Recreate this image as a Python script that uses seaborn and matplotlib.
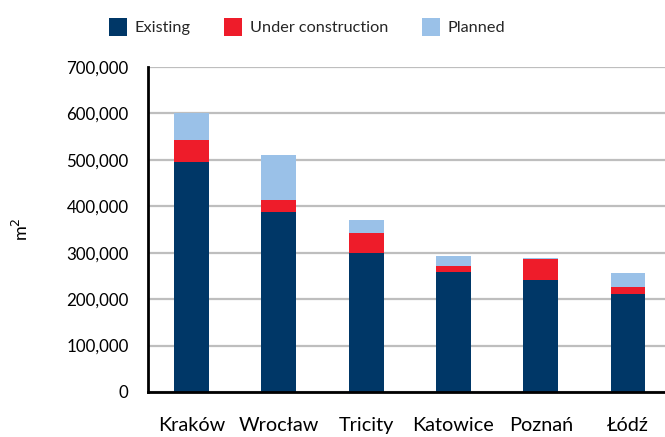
import matplotlib
matplotlib.use("Agg")
import matplotlib.pyplot as plt
import seaborn as sns
import pandas as pd
import numpy as np
from matplotlib.patches import Patch
from matplotlib.ticker import FuncFormatter

cities = ["Kraków", "Wrocław", "Tricity", "Katowice", "Poznań", "Łódź"]
existing = [496000, 388000, 300000, 259000, 242000, 212000]
under_construction = [47000, 26000, 43000, 13000, 44000, 14000]
planned = [57000, 97000, 28000, 22000, 3000, 31000]
series_names = ["Existing", "Under construction", "Planned"]
colors = ["#003767", "#EE1C2A", "#9AC1E8"]

sns.set_theme(style="white")
plt.rcParams['font.family'] = ['Lato', 'DejaVu Sans']

df = pd.DataFrame({"city": cities, "existing": existing,
                   "uc": under_construction, "planned": planned})
df["lvl1"] = df["existing"]
df["lvl2"] = df["existing"] + df["uc"]
df["lvl3"] = df["lvl2"] + df["planned"]

fig = plt.figure(figsize=(6.65, 4.37), dpi=100)
ax = fig.add_axes([148/665, 45/437, 1.01 - 148/665, (392-67)/437])

for col, c in zip(["lvl3", "lvl2", "lvl1"], colors[::-1]):
    sns.barplot(data=df, x="city", y=col, color=c, width=0.4, ax=ax,
                saturation=1, edgecolor="none")

ax.set_ylim(0, 700000)
ax.set_xlim(-0.5, 5.5)
ax.set_yticks(np.arange(0, 700001, 100000))
ax.yaxis.set_major_formatter(FuncFormatter(lambda v, p: f"{int(v):,}"))
ax.grid(axis="y", color="#BEBEBE", linewidth=1.6)
ax.set_axisbelow(True)
for s in ["top", "right"]:
    ax.spines[s].set_visible(False)
for s in ["left", "bottom"]:
    ax.spines[s].set_color("black")
    ax.spines[s].set_linewidth(2)
ax.tick_params(axis="y", length=0, pad=14, labelsize=12.2, colors="black")
ax.tick_params(axis="x", length=0, pad=18, labelsize=14.3, colors="black")
ax.set_xlabel("")
ax.set_ylabel("m$^2$", fontsize=13, labelpad=25, color="black")

handles = [Patch(facecolor=c, edgecolor="none", label=n) for c, n in zip(colors, series_names)]
fig.legend(handles=handles, loc="center", bbox_to_anchor=(307/665, 1 - 27/437),
           ncol=3, frameon=False, fontsize=11.7, handlelength=1.1, handleheight=1.4,
           handletextpad=0.45, columnspacing=2.1)

fig.savefig("out.png", dpi=100)
